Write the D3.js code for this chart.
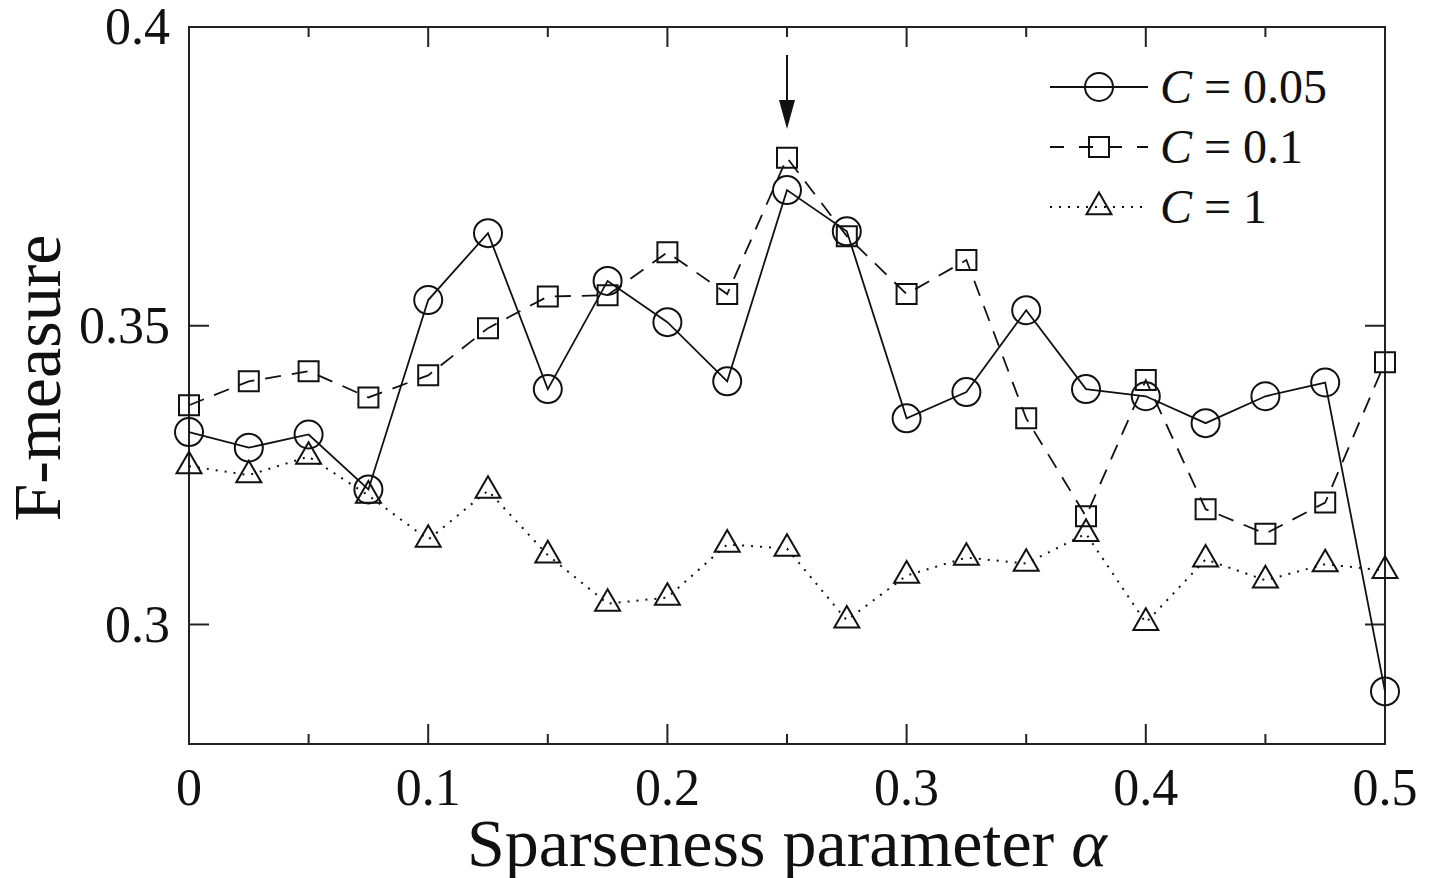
<!DOCTYPE html>
<html>
<head>
<meta http-equiv="Content-Type" content="text/html; charset=utf-8">
<script src="https://cdnjs.cloudflare.com/ajax/libs/d3/7.8.5/d3.min.js"></script>
<style>
  body { margin: 0; background: #fff; }
  text { font-family: "Liberation Serif", "DejaVu Serif", serif; fill: #111; }
</style>
</head>
<body>
<div class="chart"></div>
<script>
// ---------------- data
var alphas = [0, 0.025, 0.05, 0.075, 0.1, 0.125, 0.15, 0.175, 0.2, 0.225, 0.25,
              0.275, 0.3, 0.325, 0.35, 0.375, 0.4, 0.425, 0.45, 0.475, 0.5];
var c005 = [0.3322, 0.3296, 0.3318, 0.3226, 0.3543, 0.3655, 0.3394, 0.3575, 0.3506, 0.3407, 0.3727,
            0.3658, 0.3345, 0.3389, 0.3526, 0.3394, 0.3382, 0.3337, 0.3382, 0.3405, 0.2888];
var c01  = [0.3367, 0.3407, 0.3424, 0.3380, 0.3417, 0.3496, 0.3549, 0.3551, 0.3623, 0.3553, 0.3781,
            0.3650, 0.3553, 0.3610, 0.3345, 0.3181, 0.3409, 0.3193, 0.3152, 0.3204, 0.3439];
var c1   = [0.3265, 0.3250, 0.3281, 0.3216, 0.3142, 0.3224, 0.3116, 0.3035, 0.3045, 0.3134, 0.3127,
            0.3007, 0.3082, 0.3112, 0.3102, 0.3152, 0.3003, 0.3109, 0.3074, 0.3101, 0.3090];
var seriesNames = ["C = 0.05", "C = 0.1", "C = 1"];
var xMajor = [0, 0.1, 0.2, 0.3, 0.4, 0.5];
var xMinor = [0.05, 0.15, 0.25, 0.35, 0.45];
var yMajor = [0.3, 0.35, 0.4];
var arrowAt = 0.25;

// ---------------- svg
var width = 1438, height = 878;
var svg = d3.select("div.chart").append("svg")
  .attr("width", width).attr("height", height);

// plot box (pixels)
var pLeft = 189, pRight = 1385, pTop = 27, pBottom = 744;
var x = d3.scaleLinear().domain([0, 0.5]).range([pLeft, pRight]);
var y = d3.scaleLinear().domain([0.28, 0.4]).range([pBottom, pTop]);

// frame
svg.append("rect")
  .attr("x", pLeft).attr("y", pTop)
  .attr("width", pRight - pLeft).attr("height", pBottom - pTop)
  .attr("fill", "none").attr("stroke", "#222").attr("stroke-width", 2);

// ticks, drawn inward on all four sides
var ticks = svg.append("g").attr("stroke", "#222").attr("stroke-width", 2);
function xTicks(vals, len) {
  vals.forEach(function(v) {
    ticks.append("line").attr("x1", x(v)).attr("x2", x(v)).attr("y1", pBottom).attr("y2", pBottom - len);
    ticks.append("line").attr("x1", x(v)).attr("x2", x(v)).attr("y1", pTop).attr("y2", pTop + len);
  });
}
xTicks(xMajor, 20);
xTicks(xMinor, 10);
yMajor.forEach(function(v) {
  ticks.append("line").attr("x1", pLeft).attr("x2", pLeft + 20).attr("y1", y(v)).attr("y2", y(v));
  ticks.append("line").attr("x1", pRight).attr("x2", pRight - 20).attr("y1", y(v)).attr("y2", y(v));
});

// tick labels
svg.selectAll("text.xl").data(xMajor).enter().append("text")
  .attr("class", "xl")
  .attr("x", function(d) { return x(d); })
  .attr("y", 805)
  .attr("text-anchor", "middle")
  .style("font-size", "52px")
  .text(function(d) { return d === 0 ? "0" : String(d); });

svg.selectAll("text.yl").data(yMajor).enter().append("text")
  .attr("class", "yl")
  .attr("x", 170)
  .attr("y", function(d) { return y(d) + 17; })
  .attr("text-anchor", "end")
  .style("font-size", "52px")
  .text(function(d) { return String(d); });

// axis titles
var xt = svg.append("text")
  .attr("x", 787).attr("y", 866)
  .attr("text-anchor", "middle")
  .style("font-size", "68px");
xt.append("tspan").text("Sparseness parameter ");
xt.append("tspan").style("font-style", "italic").text("\u03b1");

svg.append("text")
  .attr("transform", "translate(60," + 378 + ") rotate(-90)")
  .attr("text-anchor", "middle")
  .style("font-size", "68px")
  .text("F-measure");

// ---------------- series
var styles = [
  { vals: c005, dash: null,    marker: "circle" },
  { vals: c01,  dash: "16,11", marker: "square" },
  { vals: c1,   dash: "2,7",   marker: "triangle" }
];

function drawMarker(g, kind, cx, cy) {
  if (kind === "circle") {
    g.append("circle").attr("cx", cx).attr("cy", cy).attr("r", 14);
  } else {
    var sym = kind === "square" ? d3.symbolSquare : d3.symbolTriangle;
    var size = kind === "square" ? 400 : 270;
    g.append("path")
      .attr("transform", "translate(" + cx + "," + cy + ")")
      .attr("d", d3.symbol().type(sym).size(size)());
  }
}

var line = d3.line()
  .x(function(d, i) { return x(alphas[i]); })
  .y(function(d) { return y(d); });

styles.forEach(function(s) {
  svg.append("path")
    .attr("d", line(s.vals))
    .attr("fill", "none")
    .attr("stroke", "#111")
    .attr("stroke-width", s.dash === "2,7" ? 2 : 1.8)
    .attr("stroke-dasharray", s.dash);
  var mg = svg.append("g").attr("fill", "none").attr("stroke", "#111").attr("stroke-width", 2);
  s.vals.forEach(function(v, i) { drawMarker(mg, s.marker, x(alphas[i]), y(v)); });
});

// arrow pointing at the best alpha
var ax = x(arrowAt);
svg.append("line").attr("x1", ax).attr("x2", ax).attr("y1", 55).attr("y2", 105)
  .attr("stroke", "#111").attr("stroke-width", 2);
svg.append("path")
  .attr("d", "M" + (ax - 8) + ",100 L" + (ax + 8) + ",100 L" + ax + ",129 Z")
  .attr("fill", "#111");

// ---------------- legend
var legendY = [87, 147, 207];
styles.forEach(function(s, i) {
  var g = svg.append("g");
  g.append("line").attr("x1", 1050).attr("x2", 1148)
    .attr("y1", legendY[i]).attr("y2", legendY[i])
    .attr("stroke", "#111").attr("stroke-width", s.dash === "2,7" ? 2 : 1.8)
    .attr("stroke-dasharray", s.dash === "16,11" ? "14,15" : s.dash);
  var mg = g.append("g").attr("fill", "none").attr("stroke", "#111").attr("stroke-width", 2);
  drawMarker(mg, s.marker, 1099, legendY[i]);
  var t = g.append("text").attr("x", 1160).attr("y", legendY[i] + 16).style("font-size", "48px");
  t.append("tspan").style("font-style", "italic").text("C");
  t.append("tspan").text(seriesNames[i].slice(1));
});
</script>
</body>
</html>
